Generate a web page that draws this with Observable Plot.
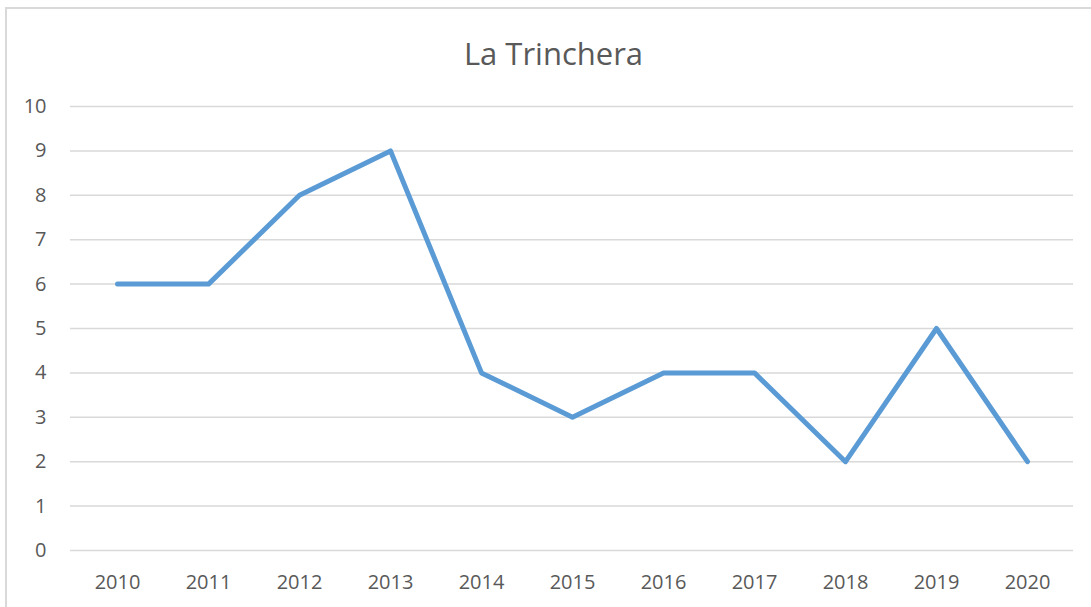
<!DOCTYPE html>
<html>
<head>
<meta charset="utf-8">
<script src="https://cdn.jsdelivr.net/npm/d3@7"></script>
<script src="https://cdn.jsdelivr.net/npm/@observablehq/plot@0.6"></script>
<style>
  html, body { margin: 0; padding: 0; background: #fff; }
  #wrap { position: relative; width: 1091px; height: 607px; overflow: hidden; font-family: "Open Sans", sans-serif; }
  #border { position: absolute; left: 5px; top: 7px; width: 1100px; height: 620px; border: 2px solid #d9d9d9; box-sizing: border-box; }
  #title { position: absolute; left: 8px; top: 0; width: 1091px; height: 80px; text-align: center; line-height: 106px; font-size: 31px; color: #595959; }
  #chart { position: absolute; left: 0; top: 80px; }
</style>
</head>
<body>
<div id="wrap">
  <div id="border"></div>
  <div id="title">La Trinchera</div>
  <div id="chart"></div>
</div>
<script>
const years = ["2010","2011","2012","2013","2014","2015","2016","2017","2018","2019","2020"];
const values = [6, 6, 8, 9, 4, 3, 4, 4, 2, 5, 2];
const yTicks = [0,1,2,3,4,5,6,7,8,9,10];

const data = years.map((y, i) => ({year: y, value: values[i]}));

const chart = Plot.plot({
  width: 1091,
  height: 527,
  marginLeft: 70,
  marginRight: 18,
  marginTop: 26,
  marginBottom: 57,
  style: { fontFamily: "Open Sans, sans-serif", fontSize: "20px", color: "#595959", background: "transparent" },
  x: { type: "point", domain: years, padding: 0.5, label: null },
  y: { domain: [0, 10], label: null },
  marks: [
    Plot.ruleY(yTicks, { stroke: "#d9d9d9", strokeWidth: 1.5 }),
    Plot.axisY({ ticks: yTicks, tickSize: 0, tickPadding: 24, label: null, fontSize: 20 }),
    Plot.axisX({ tickSize: 0, tickPadding: 24, label: null, fontSize: 20 }),
    Plot.line(data, { x: "year", y: "value", stroke: "#5b9bd5", strokeWidth: 5, strokeLinejoin: "round", strokeLinecap: "round" })
  ]
});
document.getElementById("chart").appendChild(chart);
</script>
</body>
</html>
